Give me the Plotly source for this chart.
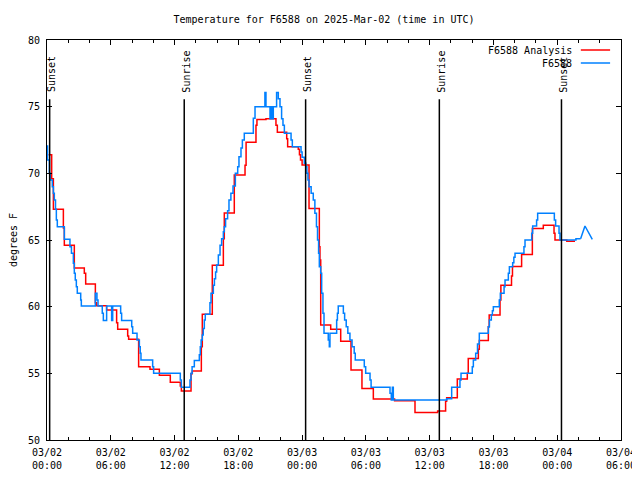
import plotly.graph_objects as go
import pandas as pd

# ---------------- data (hours after 2025-03-02 00:00 UTC) ----------------
obs_hours = [0.0, 0.05, 0.22, 0.3, 0.5, 0.6, 0.69, 0.8, 0.88, 0.97, 1.63, 2.16, 2.3, 2.48, 2.57, 2.66,
             2.76, 2.85, 3.17, 3.23, 4.55, 4.7, 4.8, 5.2, 5.3, 5.61, 6.08, 6.18, 6.93, 7.02, 7.97, 8.06,
             8.47, 8.69, 8.77, 8.84, 9.94, 10.03, 12.54, 12.64, 13.45, 13.55, 13.65, 13.86, 14.33, 14.42,
             14.5, 14.61, 14.7, 14.8, 14.89, 15.33, 15.43, 15.65, 15.75, 15.86, 15.96, 16.12, 16.28, 16.43,
             16.59, 16.68, 16.8, 16.99, 17.12, 17.3, 17.5, 17.72, 17.94, 18.06, 18.25, 18.38, 18.56, 19.41,
             19.57, 20.5, 20.6, 20.98, 21.07, 21.19, 21.29, 21.6, 21.76, 21.92, 22.07, 22.2, 22.33, 22.96,
             23.08, 23.9, 24.0, 24.21, 24.35, 24.45, 24.55, 24.65, 24.85, 25.05, 25.2, 25.35, 25.45, 25.55,
             25.62, 25.75, 25.84, 25.96, 26.06, 26.46, 26.56, 26.62, 27.25, 27.32, 27.4, 27.88, 28.0, 28.15,
             28.3, 28.5, 28.7, 28.9, 29.0, 29.85, 29.98, 30.39, 30.49, 32.27, 32.39, 32.49, 32.58, 37.6,
             38.07, 38.85, 38.95, 40.01, 40.11, 40.33, 40.5, 40.67, 41.52, 41.62, 41.8, 41.9, 41.99, 42.55,
             42.65, 43.0, 43.09, 43.4, 43.5, 43.81, 43.92, 44.03, 44.87, 44.97, 45.6, 45.69, 46.06, 46.16,
             47.73, 47.85, 48.17, 48.26, 49.76, 50.2]
obs_temps = [72.05, 71.0, 70.0, 69.5, 69.0, 68.5, 68.0, 67.3, 66.5, 66.0, 65.05, 64.5, 64.0, 63.25, 62.5, 62.0,
             61.5, 61.0, 60.5, 60.05, 61.0, 60.5, 60.05, 59.5, 58.97, 60.05, 58.97, 60.05, 59.5, 58.97, 58.5, 58.0,
             57.5, 57.0, 56.5, 56.0, 55.5, 55.0, 54.5, 53.95, 54.5, 55.0, 55.5, 55.97, 56.4, 57.0,
             57.5, 57.87, 58.37, 59.0, 59.43, 60.3, 61.0, 61.6, 62.1, 62.6, 63.12, 63.88, 64.6, 65.1,
             65.62, 66.0, 66.6, 67.2, 68.0, 68.5, 69.05, 70.0, 70.5, 71.25, 71.9, 72.5, 73.0, 74.13,
             75.0, 76.07, 75.0, 74.1, 75.0, 74.1, 75.0, 76.07, 75.6, 75.0, 74.1, 73.6, 73.0, 72.5,
             72.0, 71.6, 71.2, 70.75, 70.5, 70.0, 69.5, 69.0, 68.5, 68.0, 67.0, 66.0, 65.0, 64.0,
             63.0, 62.5, 61.0, 59.5, 58.0, 57.5, 57.0, 58.0, 59.0, 59.5, 60.05, 59.5, 59.0, 58.5,
             58.0, 57.5, 57.0, 56.5, 56.0, 55.5, 55.0, 54.5, 53.95, 53.5, 53.0, 53.95, 53.0, 53.1,
             53.95, 54.5, 55.0, 55.5, 56.0, 56.5, 57.2, 58.0, 58.5, 59.0, 59.4, 59.7, 60.0, 60.5,
             61.0, 61.5, 62.0, 62.5, 63.0, 63.3, 63.7, 64.0, 64.5, 65.0, 65.5, 66.05, 66.5, 67.0,
             66.5, 66.05, 65.5, 65.0, 65.1, 65.1]
# last few sparse observations (drawn as straight segments)
obs_tail_hours = [50.2, 50.61, 51.3]
obs_tail_temps = [65.1, 66.05, 65.05]

ana_hours = [0.15, 0.44, 0.6, 1.54, 1.63, 2.57, 3.51, 3.64, 4.55, 4.67, 5.61, 6.55, 6.65, 7.59, 7.68, 8.62,
             9.69, 10.57, 11.6, 12.54, 12.64, 13.55, 13.67, 14.52, 14.61, 15.55, 16.59, 16.68, 17.62, 18.63,
             18.73, 19.66, 19.75, 20.6, 21.54, 21.67, 22.55, 22.64, 23.64, 23.75, 23.85, 24.0, 24.65, 25.62,
             25.68, 25.75, 26.69, 27.63, 28.6, 29.63, 30.7, 32.7, 34.62, 36.75, 37.5, 37.6, 38.6, 39.54,
             39.63, 40.58, 40.67, 41.52, 41.6, 42.62, 42.7, 43.7, 43.79, 44.65, 45.66, 46.69, 47.7, 47.79,
             48.9, 49.67]
ana_temps = [71.4, 69.6, 67.3, 65.9, 64.6, 62.9, 62.5, 61.7, 60.3, 60.07, 59.75, 58.8, 58.3, 57.8, 57.55, 55.5,
             55.3, 54.85, 54.33, 54.05, 53.67, 54.97, 55.17, 57.0, 59.43, 63.1, 65.1, 67.03, 69.88, 70.6,
             72.33, 73.6, 74.03, 74.1, 73.6, 73.08, 72.6, 72.0, 71.8, 71.4, 71.0, 70.63, 67.37, 64.5,
             63.5, 58.63, 58.3, 57.4, 55.25, 53.87, 53.07, 52.95, 52.07, 52.17, 52.9, 53.17, 54.58, 55.0,
             56.12, 56.8, 57.47, 58.5, 59.37, 60.5, 61.6, 62.3, 63.02, 63.92, 65.87, 66.1, 65.5, 65.0,
             64.9, 64.9]

sun_hours = [0.25, 12.91, 24.33, 36.91, 48.4]
sun_labels = ["Sunset", "Sunrise", "Sunset", "Sunrise", "Sunset"]

series_names = ["F6588 Analysis", "F6588"]
series_colors = ["#ff0000", "#0080ff"]

title_text = "Temperature for F6588 on 2025-Mar-02 (time in UTC)"
y_title = "degrees F"

# ---------------- helpers ----------------
base = pd.Timestamp("2025-03-02 00:00")


def to_time(hours):
    return [base + pd.Timedelta(hours=h) for h in hours]


FONT = "DejaVu Sans Mono"
W, H = 632, 472   # page body has an 8px margin

fig = go.Figure()
fig.add_trace(go.Scatter(x=to_time(ana_hours), y=ana_temps, mode="lines",
                         line=dict(color=series_colors[0], width=1.5, shape="hv"),
                         name=series_names[0], showlegend=False))
fig.add_trace(go.Scatter(x=to_time(obs_hours), y=obs_temps, mode="lines",
                         line=dict(color=series_colors[1], width=1.5, shape="hv"),
                         name=series_names[1], showlegend=False))
fig.add_trace(go.Scatter(x=to_time(obs_tail_hours), y=obs_tail_temps, mode="lines",
                         line=dict(color=series_colors[1], width=1.5),
                         name=series_names[1], showlegend=False))

# sunrise / sunset markers
for h, lab in zip(sun_hours, sun_labels):
    t = base + pd.Timedelta(hours=h)
    fig.add_shape(type="line", xref="x", yref="paper", x0=t, x1=t, y0=0, y1=0.852,
                  line=dict(color="black", width=1.5))
    fig.add_annotation(x=t, y=0.864, xref="x", yref="paper", text=lab, textangle=-90,
                       showarrow=False, xanchor="center", yanchor="bottom", xshift=2,
                       font=dict(family=FONT, size=10, color="black"))

# gnuplot-style key (text then line sample)
key_y = [0.975, 0.9425]
for name, col, ky in zip(series_names, series_colors, key_y):
    fig.add_annotation(x=0.918, y=ky, xref="paper", yref="paper", text=name, showarrow=False,
                       xanchor="right", yanchor="middle",
                       font=dict(family=FONT, size=10, color="black"))
    fig.add_shape(type="line", xref="paper", yref="paper", x0=0.930, x1=0.981, y0=ky, y1=ky,
                  line=dict(color=col, width=1.5))

fig.update_layout(
    width=W, height=H,
    margin=dict(l=39, r=19, t=32, b=40, autoexpand=False),
    paper_bgcolor="white", plot_bgcolor="white",
    font=dict(family=FONT, size=10, color="black"),
    title=dict(text=title_text, x=0.5, xanchor="center", y=1 - 11 / H, yanchor="middle",
               font=dict(family=FONT, size=10, color="black")),
    showlegend=False,
)
fig.update_xaxes(
    type="date", automargin=False,
    range=[base, base + pd.Timedelta(hours=54)],
    dtick=6 * 3600 * 1000, tick0=base,
    tickformat="%m/%d<br>%H:%M",
    ticks="inside", ticklen=5, tickcolor="black",
    minor=dict(dtick=2 * 3600 * 1000, ticks="inside", ticklen=3, tickcolor="black"),
    showline=True, linecolor="black", linewidth=1, mirror="allticks",
    showgrid=False, zeroline=False, ticklabelstandoff=3,
    tickfont=dict(family=FONT, size=10, color="black"),
)
fig.update_yaxes(
    automargin=False,
    range=[50, 80], dtick=5, tick0=50,
    ticks="inside", ticklen=5, tickcolor="black",
    showline=True, linecolor="black", linewidth=1, mirror="allticks",
    showgrid=False, zeroline=False, ticklabelstandoff=4,
    tickfont=dict(family=FONT, size=10, color="black"),
    title=dict(text=y_title, standoff=13, font=dict(family=FONT, size=10, color="black")),
)

fig.write_html("out.html")
